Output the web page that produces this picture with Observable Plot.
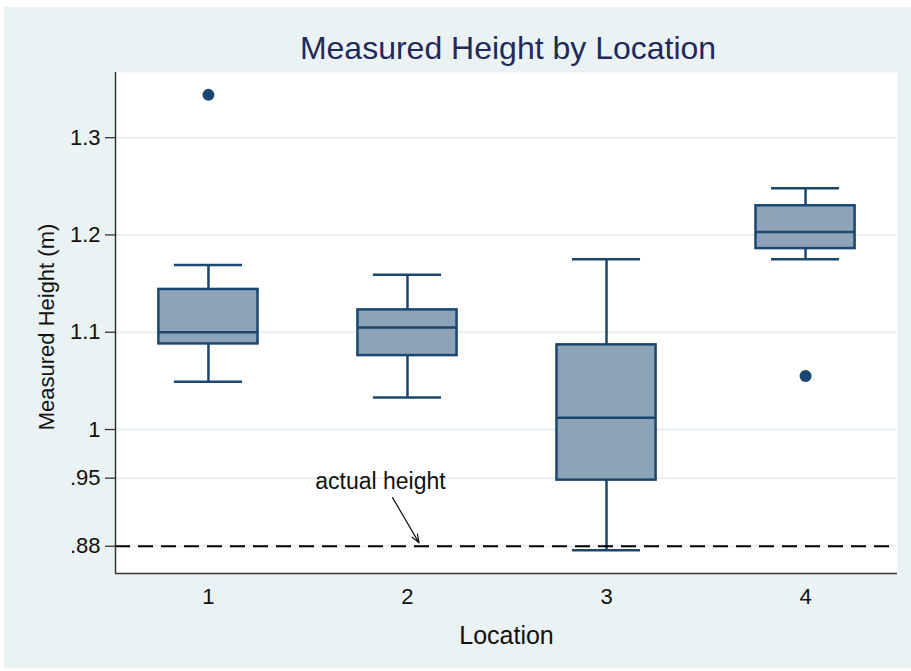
<!DOCTYPE html>
<html>
<head>
<meta charset="utf-8">
<script src="https://cdn.jsdelivr.net/npm/d3@7"></script>
<script src="https://cdn.jsdelivr.net/npm/@observablehq/plot@0.6"></script>
<style>
  body { margin: 0; background: #ffffff; font-family: "Liberation Sans", Arial, sans-serif; }
  #bg { position: absolute; left: 4px; top: 7px; width: 907px; height: 661px; background: #eaf2f3; }
  #title { position: absolute; left: 117px; width: 782px; top: 32px; text-align: center;
           font-size: 32px; line-height: 32px; color: #1f2a5a; white-space: nowrap; }
  #chart { position: absolute; left: 4px; top: 66px; }
</style>
</head>
<body>
<div id="bg"></div>
<div id="title">Measured Height by Location</div>
<div id="chart"></div>
<script>
// ---- data ----
const locations = [1, 2, 3, 4];
const lowerWhisker = [1.049, 1.033, 0.876, 1.175];
const q1 = [1.088, 1.076, 0.948, 1.186];
const median = [1.100, 1.105, 1.012, 1.203];
const q3 = [1.144, 1.123, 1.087, 1.230];
const upperWhisker = [1.169, 1.159, 1.175, 1.248];
const outlierLocation = [1, 4];
const outlierValue = [1.344, 1.055];
const yTicks = [0.88, 0.95, 1, 1.1, 1.2, 1.3];
const yTickLabels = [".88", ".95", "1", "1.1", "1.2", "1.3"];
const xTickLabels = ["1", "2", "3", "4"];
const actualHeight = 0.88;
const annotationText = ["actual height"];
const annotationTextAt = [{x: 1.864, y: 0.939}];
const annotationArrow = [{x1: 1.925, y1: 0.930, x2: 2.058, y2: 0.8835}];

// ---- table built from arrays ----
const boxes = locations.map((loc, i) => ({
  loc, lo: lowerWhisker[i], q1: q1[i], med: median[i], q3: q3[i], hi: upperWhisker[i]
}));
const outliers = outlierLocation.map((loc, i) => ({loc, v: outlierValue[i]}));

const xDomain = [0.533, 4.462];
const yDomain = [0.852, 1.367];
const boxHalf = 0.249;
const capHalf = 0.171;
const navy = "#1a476f";
const boxFill = "#8fa3b8";
const gridColor = "#e6eff1";

const chart = Plot.plot({
  width: 907,
  height: 602,
  marginLeft: 111,
  marginRight: 14,
  marginTop: 6,
  marginBottom: 95,
  style: {background: "transparent", fontFamily: "'Liberation Sans', Arial, sans-serif", color: "#222"},
  x: {domain: xDomain, axis: null},
  y: {domain: yDomain, axis: null},
  marks: [
    Plot.frame({fill: "white"}),
    Plot.ruleY(yTicks, {stroke: gridColor, strokeWidth: 2}),
    // whiskers
    Plot.ruleX(boxes, {x: "loc", y1: "q3", y2: "hi", stroke: navy, strokeWidth: 2.5}),
    Plot.ruleX(boxes, {x: "loc", y1: "lo", y2: "q1", stroke: navy, strokeWidth: 2.5}),
    Plot.ruleY(boxes, {y: "hi", x1: d => d.loc - capHalf, x2: d => d.loc + capHalf, stroke: navy, strokeWidth: 2.5}),
    Plot.ruleY(boxes, {y: "lo", x1: d => d.loc - capHalf, x2: d => d.loc + capHalf, stroke: navy, strokeWidth: 2.5}),
    // boxes
    Plot.rect(boxes, {x1: d => d.loc - boxHalf, x2: d => d.loc + boxHalf, y1: "q1", y2: "q3",
      fill: boxFill, stroke: navy, strokeWidth: 2.5}),
    Plot.ruleY(boxes, {y: "med", x1: d => d.loc - boxHalf, x2: d => d.loc + boxHalf, stroke: navy, strokeWidth: 2.5}),
    // outliers
    Plot.dot(outliers, {x: "loc", y: "v", r: 6, fill: navy, stroke: null}),
    // reference line
    Plot.ruleY([actualHeight], {stroke: "#000", strokeWidth: 2.2, strokeDasharray: "15,8"}),
    // annotation
    Plot.text(annotationText, {x: () => annotationTextAt[0].x, y: () => annotationTextAt[0].y,
      text: d => d, fontSize: 23, lineAnchor: "bottom", textAnchor: "middle", fill: "#111"}),
    Plot.arrow(annotationArrow, {x1: "x1", y1: "y1", x2: "x2", y2: "y2",
      stroke: "#111", strokeWidth: 1.2, headLength: 11, headAngle: 40}),
    // axis lines
    Plot.ruleX([xDomain[0]], {stroke: "#333", strokeWidth: 1.5}),
    Plot.ruleY([yDomain[0]], {stroke: "#333", strokeWidth: 1.5}),
    // axes
    Plot.axisY(yTicks, {tickSize: 10, tickPadding: 5, fontSize: 22, stroke: "#333", strokeWidth: 1.3,
      tickFormat: d => yTickLabels[yTicks.indexOf(d)], label: null, fill: "#111"}),
    Plot.axisX(locations, {tickSize: 0, tickPadding: 15, fontSize: 22,
      tickFormat: d => xTickLabels[locations.indexOf(d)], label: null, fill: "#111"}),
    // axis titles
    Plot.text(["Location"], {frameAnchor: "bottom", dy: 70, lineAnchor: "bottom", textAnchor: "middle", fontSize: 25, fill: "#111"}),
    Plot.text(["Measured Height (m)"], {frameAnchor: "left", dx: -62, dy: 4, rotate: -90, lineAnchor: "bottom", textAnchor: "middle", fontSize: 22, fill: "#111"})
  ]
});
document.getElementById("chart").appendChild(chart);
</script>
</body>
</html>
